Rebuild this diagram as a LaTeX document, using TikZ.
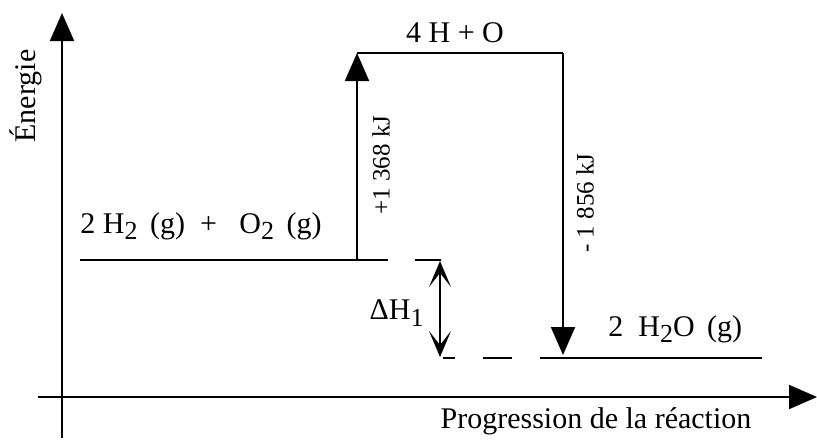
\documentclass[tikz,border=0pt]{standalone}
\usepackage{fontspec}
\setmainfont{Liberation Serif}
\usetikzlibrary{arrows.meta}

\newcommand{\ind}[1]{\raisebox{-0.45ex}{\fontsize{13pt}{14pt}\selectfont #1}}

\tikzset{
  level/.style={line width=1pt},
  bigarrow/.style={line width=1pt, -{Triangle[length=14pt, width=12pt]}},
  deltaarrow/.style={line width=1pt, {Stealth[length=13pt, width=11pt, inset=7pt]}-{Stealth[length=13pt, width=11pt, inset=7pt]}},
  lbl/.style={inner sep=0pt, font=\fontsize{15pt}{17pt}\selectfont},
  vlbl/.style={inner sep=0pt, rotate=90, font=\fontsize{12.5pt}{14pt}\selectfont}
}

\begin{document}
\begin{tikzpicture}[x=0.5pt, y=-0.5pt]
\useasboundingbox (0,0) rectangle (817,439);
% axes
\coordinate (ybot) at (62,438);
\coordinate (ytop) at (62,13);
\coordinate (xleft) at (38,397);
\coordinate (xright) at (817,397);
\draw[bigarrow] (ybot) -- (ytop);
\draw[bigarrow] (xleft) -- (xright);
\node[lbl, rotate=90] (energie) at (26,96) {Énergie};
\node[lbl] (progr) at (596,421) {Progression de la réaction};
% energy levels
\coordinate (react1) at (80,260);
\coordinate (react2) at (357,260);
\coordinate (react3) at (388,260);
\coordinate (atom1) at (357,53);
\coordinate (atom2) at (563,53);
\coordinate (prod1) at (540,358);
\coordinate (prod2) at (762,358);
\coordinate (prodtip) at (563,355);
\draw[level] (react1) -- (react3);
\draw[level] (atom1) -- (atom2);
\draw[level] (prod1) -- (prod2);
% dashed helpers
\draw[level] (415,260) -- (441,260);
\draw[level] (443,358) -- (455,358);
\draw[level] (483,358) -- (512,358);
% steps
\draw[bigarrow] (react2) -- (atom1);
\draw[bigarrow] (atom2) -- (prodtip);
\coordinate (dhtop) at (440,261);
\coordinate (dhbot) at (440,357);
\draw[deltaarrow] (dhtop) -- (dhbot);
% labels
\node[lbl, anchor=west] (reactifs) at (80,226) {2 H\ind{2}\,\ (g) \ +\ \ \ O\ind{2}\,\ (g)};
\node[lbl] (atomes) at (455,33) {4 H + O};
\node[lbl, anchor=west] (produit) at (608,329) {2\ \ H\ind{2}O\,\ (g)};
\node[lbl, anchor=east] (dh) at (424,313) {ΔH\ind{1}};
\node[vlbl] (plus) at (381,165) {+1 368 kJ};
\node[vlbl] (moins) at (585,203) {- 1 856 kJ};
\end{tikzpicture}
\end{document}
